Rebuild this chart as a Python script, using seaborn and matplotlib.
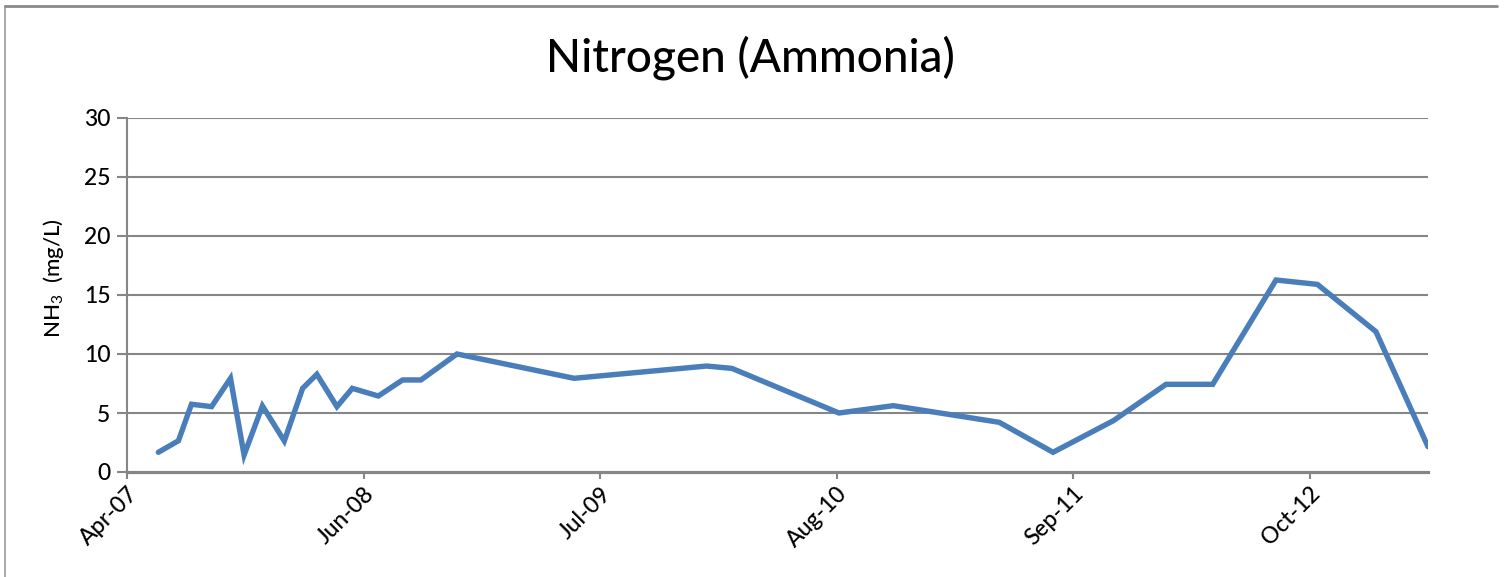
import matplotlib
matplotlib.use("Agg")
import matplotlib.pyplot as plt
import matplotlib.dates as mdates
from matplotlib.lines import Line2D
import seaborn as sns
import pandas as pd
import numpy as np

# ---- data ----
dates = ["2007-06-20", "2007-07-24", "2007-08-15", "2007-09-18", "2007-10-20",
         "2007-11-12", "2007-12-13", "2008-01-19", "2008-02-19", "2008-03-14",
         "2008-04-17", "2008-05-13", "2008-06-26", "2008-08-06", "2008-09-06",
         "2008-11-06", "2009-05-23", "2010-01-02", "2010-02-14", "2010-08-14",
         "2010-11-14", "2011-05-12", "2011-08-11", "2011-11-21", "2012-02-18",
         "2012-05-07", "2012-08-22", "2012-10-31", "2013-02-07", "2013-05-06"]
nh3 = [1.67, 2.65, 5.74, 5.54, 7.94, 1.44, 5.60, 2.63, 7.09, 8.28,
       5.54, 7.09, 6.44, 7.80, 7.80, 10.0, 7.94, 8.98, 8.78, 5.00,
       5.62, 4.21, 1.67, 4.35, 7.43, 7.43, 16.27, 15.90, 11.89, 2.15]
axis_start = "2007-04-28"
major_unit_days = 400
n_major = 5
axis_end = "2013-05-06"
y_ticks = [0, 5, 10, 15, 20, 25, 30]

df = pd.DataFrame({"date": pd.to_datetime(dates), "nh3": nh3})

sns.set_theme(style="white")
plt.rcParams["font.family"] = ["Lato", "DejaVu Sans"]
plt.rcParams["mathtext.fontset"] = "custom"
plt.rcParams["mathtext.rm"] = "Lato"
plt.rcParams["mathtext.it"] = "Lato:italic"

W, H = 1505, 577
fig = plt.figure(figsize=(W / 100, H / 100), dpi=100)
ax = fig.add_axes([127 / W, 1 - 472 / H, (1428 - 127) / W, (472 - 118) / H])

grid_c = "#868686"
for yv in y_ticks[1:]:
    ax.axhline(yv, color=grid_c, lw=1.5, zorder=1)

sns.lineplot(data=df, x="date", y="nh3", ax=ax, color="#4A7EBB", lw=3.9,
             zorder=3, solid_joinstyle="miter")

start = pd.Timestamp(axis_start)
ticks = [start + pd.Timedelta(days=major_unit_days * k) for k in range(n_major + 1)]
ax.set_xlim(start, pd.Timestamp(axis_end))
ax.set_xticks(ticks)
ax.xaxis.set_major_formatter(mdates.DateFormatter("%b-%y"))
ax.set_ylim(0, 30)
ax.set_yticks(y_ticks)

for s in ["top", "right"]:
    ax.spines[s].set_visible(False)
ax.spines["left"].set_color(grid_c)
ax.spines["left"].set_linewidth(1.5)
ax.spines["bottom"].set_color(grid_c)
ax.spines["bottom"].set_linewidth(2.3)
ax.spines["bottom"].set_zorder(4)

ax.tick_params(axis="y", which="major", left=True, length=7, width=1.5,
               color=grid_c, labelsize=16.5, pad=5, labelcolor="black")
ax.tick_params(axis="x", which="major", bottom=True, length=5, width=1.5,
               color=grid_c, labelsize=16.5, pad=3, labelcolor="black")
for lab in ax.get_yticklabels() + ax.get_xticklabels():
    lab.set_fontweight("medium")
for lab in ax.get_xticklabels():
    lab.set_rotation(45)
    lab.set_ha("right")
    lab.set_rotation_mode("anchor")

ax.set_xlabel("")
ax.set_ylabel("NH$_3$  (mg/L)", fontsize=16, color="black", fontweight="medium")
ax.yaxis.set_label_coords((66 - 127) / (1428 - 127), (472 - 278) / (472 - 118))

fig.text(750 / W, 1 - 58 / H, "Nitrogen (Ammonia)", ha="center", va="center",
         fontsize=33, color="black", fontweight="medium")

# chart-area border (top and left visible)
fig.add_artist(Line2D([5 / W, 5 / W], [0, 1 - 6 / H], transform=fig.transFigure,
                      color="#9a9a9a", lw=1.2))
fig.add_artist(Line2D([5 / W, 1497 / W], [1 - 6 / H, 1 - 6 / H],
                      transform=fig.transFigure, color="#8a8a8a", lw=2))

fig.savefig("out.png", dpi=100, facecolor="white")
